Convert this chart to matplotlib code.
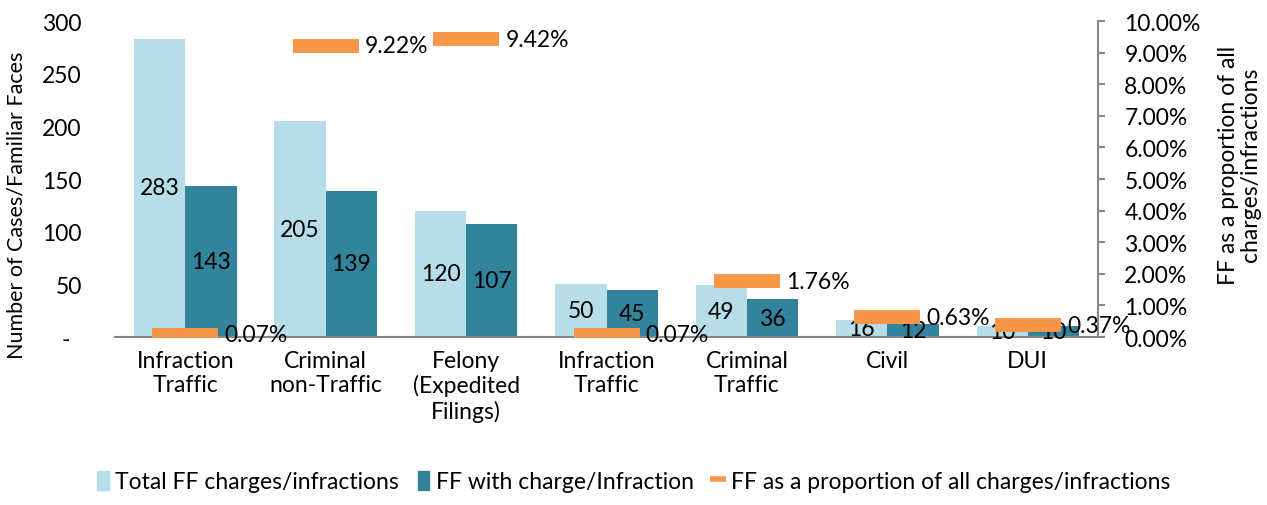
import numpy as np
import matplotlib.pyplot as plt
from matplotlib.lines import Line2D
from matplotlib.patches import Patch

plt.rcParams['font.family'] = ['Lato', 'DejaVu Sans']

categories = ['Infraction\nTraffic', 'Criminal\nnon-Traffic', 'Felony\n(Expedited\nFilings)',
              'Infraction\nTraffic', 'Criminal\nTraffic', 'Civil', 'DUI']
total_ff = [283, 205, 120, 50, 49, 16, 10]
ff_with_charge = [143, 139, 107, 45, 36, 12, 10]
ff_proportion = [0.07, 9.22, 9.42, 0.07, 1.76, 0.63, 0.37]

light = '#B7DEE8'
dark = '#31849B'
orange = '#F79646'
fs = 16.5

fig = plt.figure(figsize=(12.67, 5.06), dpi=100)
ax = fig.add_axes([0.0908, 0.332, 0.7758, 0.6245])
x = np.arange(len(categories))
w = 0.365
b1 = ax.bar(x - w/2, total_ff, w, color=light)
b2 = ax.bar(x + w/2, ff_with_charge, w, color=dark)
for bars, vals in [(b1, total_ff), (b2, ff_with_charge)]:
    for r, v in zip(bars, vals):
        ax.text(r.get_x() + r.get_width()/2, v/2, str(v), ha='center', va='center', fontsize=fs)

ax.set_xlim(-0.5, len(categories) - 0.5)
ax.set_ylim(0, 300)
ax.set_yticks(range(0, 301, 50))
ax.set_yticklabels(['-  '] + [str(v) for v in range(50, 301, 50)], fontsize=fs)
ax.set_xticks(x)
ax.set_xticklabels(categories, fontsize=fs, va='top', linespacing=1.2)
ax.tick_params(axis='x', length=0, pad=9)
ax.tick_params(axis='y', length=0, pad=24)
for s in ['top', 'right', 'left']:
    ax.spines[s].set_visible(False)
ax.spines['bottom'].set_color('#888888')
ax.spines['bottom'].set_linewidth(1.5)
ax.set_ylabel('Number of Cases/Familiar Faces', fontsize=15.5)
ax.yaxis.set_label_coords(-0.09, 0.42)

ax2 = ax.twinx()
ax2.plot(x, ff_proportion, linestyle='none', marker='_', markersize=48, markeredgewidth=10, color=orange)
for xi, p in zip(x, ff_proportion):
    ax2.text(xi + 0.28, p, f'{p:.2f}%', ha='left', va='center', fontsize=fs)
ax2.set_ylim(0, 10)
ax2.set_yticks(range(0, 11))
ax2.set_yticklabels([f'{v:.2f}%' for v in range(0, 11)], fontsize=fs)
for s in ['top', 'left', 'bottom']:
    ax2.spines[s].set_visible(False)
ax2.spines['right'].set_color('#888888')
ax2.spines['right'].set_linewidth(1.5)
ax2.tick_params(axis='y', direction='out', length=5, color='#888888', width=1.5, pad=14)
ax2.set_ylabel('FF as a proportion of all\ncharges/infractions', fontsize=fs, linespacing=1.05)
ax2.yaxis.set_label_coords(1.122, 0.547)

handles = [Patch(color=light), Patch(color=dark),
           Line2D([], [], color=orange, linestyle='none', marker='_', markersize=12, markeredgewidth=4)]
labels = ['Total FF charges/infractions', 'FF with charge/Infraction',
          'FF as a proportion of all charges/infractions']
fig.legend(handles, labels, loc='lower center', bbox_to_anchor=(0.5, -0.015), ncol=3, frameon=False,
           fontsize=fs, handlelength=0.5, handleheight=0.9, handletextpad=0.3, columnspacing=0.8)

fig.savefig('out.png', dpi=100)
